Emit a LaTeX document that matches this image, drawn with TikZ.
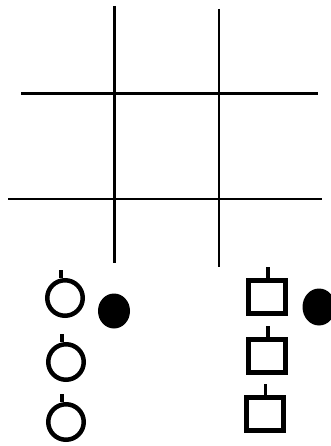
\documentclass[tikz,border=0pt]{standalone}
\usetikzlibrary{shapes.geometric}
\begin{document}
\begin{tikzpicture}[x=1pt,y=-1pt,
  gridline/.style={line width=2.2pt,black},
  ring/.style={circle,draw,line width=4.5pt,minimum size=35.5pt,inner sep=0pt},
  boxnode/.style={rectangle,draw,line width=5pt,minimum width=37pt,minimum height=33pt,inner sep=0pt},
  blob/.style={ellipse,fill=black,inner sep=0pt},
  stem/.style={line width=3.8pt,black}]
\useasboundingbox (0,0) rectangle (330,446);
% grid
\coordinate (v1t) at (114.5,6);  \coordinate (v1b) at (114.5,263);
\coordinate (v2t) at (219,9);    \coordinate (v2b) at (219,267);
\coordinate (h1l) at (21,94);    \coordinate (h1r) at (318,94);
\coordinate (h2l) at (8,199);    \coordinate (h2r) at (322,199);
\draw[gridline] (v1t) -- (v1b);
\draw[gridline] (v2t) -- (v2b);
\draw[gridline,line width=3pt] (h1l) -- (h1r);
\draw[gridline,line width=2pt] (h2l) -- (h2r);
% circles
\node[ring] (c1) at (65,298) {};
\node[ring] (c2) at (66,362) {};
\node[ring] (c3) at (66,422) {};
\foreach \n in {c1,c2,c3}{
  \coordinate (\n s) at ([xshift=-4pt]\n.north);
  \draw[stem] (\n s) -- ++(0,-8);
}
\node[blob,minimum width=32pt,minimum height=35pt] (d1) at (114,311) {};
% squares
\node[boxnode] (s1) at (267,297) {};
\node[boxnode] (s2) at (267,355.5) {};
\node[boxnode] (s3) at (264.5,414) {};
\foreach \n in {s1,s2,s3}{
  \draw[stem] ([xshift=1pt]\n.north) -- ++(0,-11);
}
\node[blob,minimum width=33pt,minimum height=37pt] (d2) at (319,307) {};
\end{tikzpicture}
\end{document}
